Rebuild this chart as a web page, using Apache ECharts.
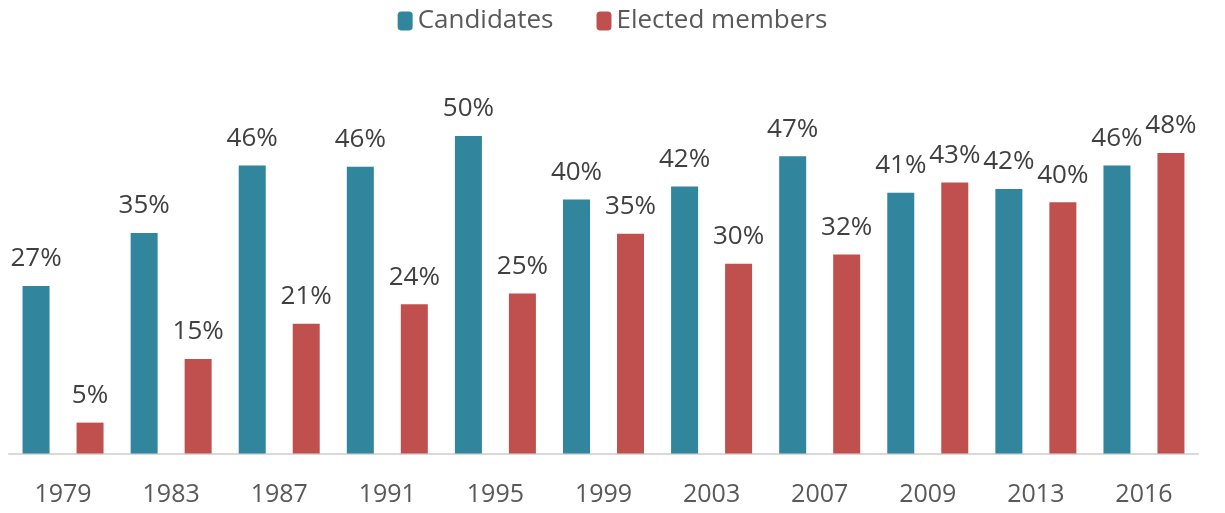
<!DOCTYPE html>
<html>
<head>
<meta charset="utf-8">
<script src="https://cdn.jsdelivr.net/npm/echarts@6/dist/echarts.min.js"></script>
<style>html,body{margin:0;padding:0;background:#fff}#c{width:1225px;height:513px}</style>
</head>
<body>
<div id="c"></div>
<script>
const years = ['1979','1983','1987','1991','1995','1999','2003','2007','2009','2013','2016'];
const candidates = [26.6, 35.0, 45.7, 45.5, 50.4, 40.3, 42.4, 47.2, 41.4, 42.0, 45.7];
const elected = [4.9, 15.0, 20.6, 23.7, 25.4, 34.9, 30.1, 31.6, 43.0, 39.9, 47.7];
const seriesNames = ['Candidates', 'Elected members'];

const chart = echarts.init(document.getElementById('c'));
const labelStyle = {
  show: true, position: 'top', distance: 14,
  fontFamily: 'Open Sans', fontSize: 26, color: '#404040',
  formatter: p => Math.round(p.value) + '%'
};
chart.setOption({
  animation: false,
  legend: {
    top: 3, left: 'center',
    itemWidth: 15, itemHeight: 19, itemGap: 43,
    textStyle: { fontFamily: 'Open Sans', fontSize: 26, color: '#595959' },
    data: seriesNames
  },
  grid: { left: 9, right: 27, top: 75.5, bottom: 59.5, containLabel: false },
  xAxis: {
    type: 'category', data: years,
    axisLine: { lineStyle: { color: '#d9d9d9', width: 2 } },
    axisTick: { show: false },
    axisLabel: { fontFamily: 'Open Sans', fontSize: 25, color: '#595959', margin: 29 }
  },
  yAxis: { type: 'value', min: 0, max: 60, show: false, splitLine: { show: false } },
  series: [
    { name: seriesNames[0], type: 'bar', data: candidates, barWidth: 27, barGap: '100%',
      itemStyle: { color: '#31859c' }, label: labelStyle },
    { name: seriesNames[1], type: 'bar', data: elected, barWidth: 27, barGap: '100%',
      itemStyle: { color: '#c0504d' }, label: labelStyle }
  ]
});
</script>
</body>
</html>
